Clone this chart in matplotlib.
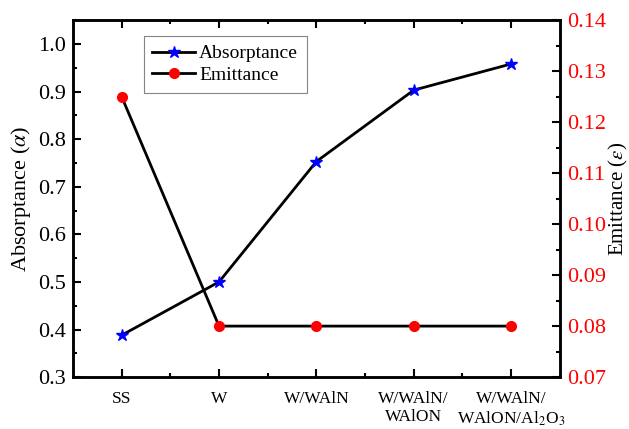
import matplotlib
matplotlib.use("Agg")
import matplotlib.pyplot as plt
from matplotlib.ticker import MultipleLocator, FixedLocator, FormatStrFormatter

plt.rcParams['font.family'] = ['Liberation Serif', 'DejaVu Serif']
plt.rcParams['mathtext.fontset'] = 'stix'

# coating stacks and measured optical properties
samples = ['SS', 'W', 'W/WAlN', 'W/WAlN/\nWAlON', 'W/WAlN/\nWAlON/Al$_2$O$_3$']
absorptance = [0.388, 0.500, 0.753, 0.903, 0.958]
emittance = [0.125, 0.080, 0.080, 0.080, 0.080]

fig, ax = plt.subplots(figsize=(6.29, 4.29), dpi=100)
fig.subplots_adjust(left=0.116, right=0.890, top=0.953, bottom=0.121)
ax2 = ax.twinx()

x = list(range(len(samples)))
l1, = ax.plot(x, absorptance, color='black', lw=2, marker='*', ms=9,
              mfc='blue', mec='blue', label='Absorptance')
l2, = ax2.plot(x, emittance, color='black', lw=2, marker='o', ms=7,
               mfc='red', mec='red', label='Emittance')

ax.set_xlim(-0.5, 4.5)
ax.set_ylim(0.3, 1.05)
ax2.set_ylim(0.07, 0.14)

ax.set_xticks(x)
ax.set_xticklabels(samples, fontsize=12.5)
ax.xaxis.set_minor_locator(FixedLocator([0.5, 1.5, 2.5, 3.5]))
ax.yaxis.set_major_locator(MultipleLocator(0.1))
ax.yaxis.set_minor_locator(MultipleLocator(0.05))
ax2.yaxis.set_major_locator(MultipleLocator(0.01))
ax2.yaxis.set_minor_locator(MultipleLocator(0.005))
ax.yaxis.set_major_formatter(FormatStrFormatter('%.1f'))
ax2.yaxis.set_major_formatter(FormatStrFormatter('%.2f'))

ax.tick_params(axis='x', which='both', direction='in', top=True, width=1.5)
ax.tick_params(axis='x', which='major', length=6, pad=10)
ax.tick_params(axis='x', which='minor', length=3)
ax.tick_params(axis='y', which='both', direction='in', width=1.5, labelsize=16)
ax.tick_params(axis='y', which='major', length=6, pad=5)
ax.tick_params(axis='y', which='minor', length=3)
ax2.tick_params(axis='y', which='both', direction='in', width=1.5,
                labelsize=16, labelcolor='red')
ax2.tick_params(axis='y', which='major', length=6, pad=5)
ax2.tick_params(axis='y', which='minor', length=3)

for a in (ax, ax2):
    for s in a.spines.values():
        s.set_linewidth(1.8)

ax.set_ylabel(r'Absorptance ($\alpha$)', fontsize=16, labelpad=4)
ax2.set_ylabel(r'Emittance ($\varepsilon$)', fontsize=15, labelpad=1)

leg = ax.legend(handles=[l1, l2], loc='upper left', bbox_to_anchor=(0.125, 0.983),
                fontsize=14, frameon=True, fancybox=False, edgecolor='0.4',
                handlelength=2.2, handletextpad=0.2, borderpad=0.45,
                labelspacing=0.2)
leg.get_frame().set_linewidth(0.8)

fig.savefig('out.png', dpi=100)
